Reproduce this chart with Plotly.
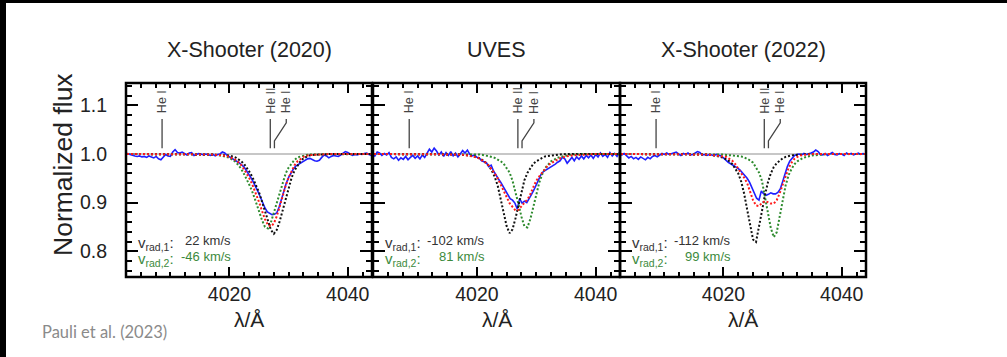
import plotly.graph_objects as go

W, H = 1007, 357

# ---------------- data ----------------
PANEL_TITLES = ["X-Shooter (2020)", "UVES", "X-Shooter (2022)"]
VRAD1 = [22, -102, -112]
VRAD2 = [-46, 81, 99]
CONTINUUM = 1.0
X_TICK0, X_DTICK, X_MINOR = 4000, 20, 2.5
Y_TICK0, Y_DTICK, Y_MINOR = 0.8, 0.1, 0.02

# spectral line identifications
LINE_NAMES = ["He I", "He II", "He I"]
LINE_POS = [4008.6, 4026.9, 4027.6]
LINE_LABEL_POS = [4008.6, 4026.9, 4029.6]

WL_MODEL = [4002, 4004, 4006, 4008, 4010, 4012, 4014, 4016, 4017, 4018, 4019,
            4019.5, 4020, 4020.5, 4021, 4021.5, 4022, 4022.5, 4023, 4023.5, 4024, 4024.5,
            4025, 4025.5, 4026, 4026.5, 4027, 4027.5, 4028, 4028.5, 4029, 4029.5, 4030,
            4030.5, 4031, 4031.5, 4032, 4032.5, 4033, 4033.5, 4034,
            4035, 4036, 4037, 4038, 4040, 4042, 4044]

WL_OBS = [4002.4, 4002.8, 4003.2, 4003.6, 4004.0, 4004.4, 4004.8, 4005.2, 4005.6, 4006.0,
          4006.4, 4006.8, 4007.2, 4007.6, 4008.0, 4008.4, 4008.8, 4009.2, 4009.6, 4010.0,
          4010.4, 4010.8, 4011.2, 4011.6, 4012.0, 4012.4, 4012.8, 4013.2, 4013.6, 4014.0,
          4014.4, 4014.8, 4015.2, 4015.6, 4016.0, 4016.4, 4016.8, 4017.2, 4017.6, 4018.0,
          4018.4, 4018.8, 4019.2, 4019.6, 4020.0, 4020.4, 4020.8, 4021.2, 4021.6, 4022.0,
          4022.4, 4022.8, 4023.2, 4023.6, 4024.0, 4024.4, 4024.8, 4025.2, 4025.6, 4026.0,
          4026.4, 4026.8, 4027.2, 4027.6, 4028.0, 4028.4, 4028.8, 4029.2, 4029.6, 4030.0,
          4030.4, 4030.8, 4031.2, 4031.6, 4032.0, 4032.4, 4032.8, 4033.2, 4033.6, 4034.0,
          4034.4, 4034.8, 4035.2, 4035.6, 4036.0, 4036.4, 4036.8, 4037.2, 4037.6, 4038.0,
          4038.4, 4038.8, 4039.2, 4039.6, 4040.0, 4040.4, 4040.8, 4041.2, 4041.6, 4042.0,
          4042.4, 4042.8, 4043.2, 4043.6, 4044.0]

OBS_2020 = [1.000, 1.001, 0.999, 0.997, 0.996, 0.995, 0.996, 0.994, 0.995, 0.993,
            0.996, 0.994, 0.992, 0.995, 0.990, 0.988, 0.994, 0.999, 0.996, 0.995,
            1.004, 1.009, 1.003, 1.002, 1.004, 1.001, 0.998, 1.002, 1.003, 0.997,
            0.999, 1.001, 1.000, 0.998, 1.000, 0.999, 0.997, 0.999, 0.996, 0.999,
            1.000, 1.004, 1.002, 0.997, 0.994, 0.991, 0.989, 0.986, 0.982, 0.978,
            0.974, 0.967, 0.960, 0.952, 0.943, 0.934, 0.923, 0.912, 0.900, 0.889,
            0.881, 0.877, 0.875, 0.876, 0.879, 0.891, 0.908, 0.925, 0.940, 0.952,
            0.961, 0.969, 0.975, 0.978, 0.981, 0.983, 0.987, 0.990, 0.991, 0.988,
            0.986, 0.985, 0.987, 0.993, 0.998, 0.996, 0.992, 0.995, 0.997, 0.996,
            0.995, 0.998, 1.001, 1.005, 1.003, 0.999, 0.997, 0.999, 0.998, 1.000,
            0.999, 1.001, 1.002, 0.999, 0.997]
FIT_2020 = [1.0, 1.0, 1.0, 1.0, 1.0, 1.0, 1.0, 0.999, 0.999, 0.998, 0.997,
            0.996, 0.994, 0.991, 0.988, 0.983, 0.977, 0.968, 0.958, 0.947, 0.933, 0.918,
            0.901, 0.883, 0.866, 0.854, 0.851, 0.857, 0.872, 0.892, 0.914, 0.935, 0.951,
            0.966, 0.977, 0.985, 0.990, 0.994, 0.996, 0.998, 0.998,
            0.999, 0.999, 1.0, 1.0, 1.0, 1.0, 1.0]
COMP1_2020 = [1.0, 1.0, 1.0, 1.0, 1.0, 1.0, 1.0, 0.999, 0.999, 0.998, 0.998,
              0.998, 0.997, 0.995, 0.993, 0.989, 0.985, 0.979, 0.970, 0.961, 0.949, 0.936,
              0.921, 0.902, 0.882, 0.862, 0.844, 0.836, 0.844, 0.862, 0.885, 0.910, 0.931,
              0.951, 0.966, 0.977, 0.985, 0.991, 0.994, 0.997, 0.998,
              0.999, 0.999, 1.0, 1.0, 1.0, 1.0, 1.0]
COMP2_2020 = [1.0, 1.0, 1.0, 1.0, 1.0, 1.0, 1.0, 1.0, 0.999, 0.998, 0.996,
              0.994, 0.992, 0.988, 0.984, 0.977, 0.969, 0.958, 0.947, 0.933, 0.918, 0.900,
              0.881, 0.864, 0.850, 0.847, 0.859, 0.879, 0.901, 0.922, 0.943, 0.960, 0.972,
              0.981, 0.988, 0.993, 0.995, 0.997, 0.998, 0.999, 0.999,
              1.0, 1.0, 1.0, 1.0, 1.0, 1.0, 1.0]

OBS_UVES = [1.000, 0.996, 1.004, 1.002, 0.997, 1.001, 0.998, 1.003, 0.993, 0.990,
            0.994, 0.987, 0.992, 0.989, 0.995, 0.988, 0.993, 0.997, 0.991, 0.996,
            0.990, 0.998, 0.993, 1.001, 1.010, 1.004, 1.012, 1.006, 0.998, 1.004,
            0.995, 1.003, 0.997, 1.005, 0.996, 1.002, 0.994, 1.000, 1.007, 1.002,
            1.008, 0.999, 0.996, 0.998, 0.993, 0.992, 0.986, 0.984, 0.982, 0.974,
            0.977, 0.965, 0.956, 0.949, 0.942, 0.934, 0.925, 0.917, 0.908, 0.905,
            0.899, 0.887, 0.908, 0.899, 0.903, 0.900, 0.910, 0.917, 0.926, 0.937,
            0.948, 0.958, 0.964, 0.967, 0.969, 0.973, 0.976, 0.979, 0.983, 0.986,
            0.993, 0.990, 0.981, 0.988, 0.993, 0.986, 0.994, 0.989, 0.996, 0.990,
            0.997, 0.992, 0.998, 0.991, 0.999, 0.994, 1.002, 0.995, 0.999, 0.993,
            1.003, 0.996, 1.001, 0.995, 1.003]
FIT_UVES = [1.0, 1.0, 1.0, 1.0, 1.0, 1.0, 1.0, 1.0, 0.999, 0.998, 0.996,
            0.995, 0.993, 0.990, 0.986, 0.982, 0.976, 0.969, 0.960, 0.950, 0.938, 0.925,
            0.912, 0.899, 0.891, 0.884, 0.885, 0.893, 0.900, 0.906, 0.917, 0.932, 0.945,
            0.954, 0.962, 0.970, 0.977, 0.981, 0.985, 0.988, 0.991,
            0.995, 0.997, 0.998, 0.999, 1.0, 1.0, 1.0]
COMP1_UVES = [1.0, 1.0, 1.0, 1.0, 1.0, 1.0, 1.0, 0.999, 0.999, 0.998, 0.997,
              0.995, 0.993, 0.991, 0.987, 0.982, 0.976, 0.966, 0.953, 0.935, 0.909, 0.879,
              0.852, 0.837, 0.845, 0.868, 0.896, 0.925, 0.946, 0.961, 0.972, 0.980, 0.985,
              0.989, 0.992, 0.995, 0.996, 0.997, 0.998, 0.999, 0.999,
              1.0, 1.0, 1.0, 1.0, 1.0, 1.0, 1.0]
COMP2_UVES = [1.0, 1.0, 1.0, 1.0, 1.0, 1.0, 1.0, 1.0, 1.0, 0.999, 0.999,
              0.999, 0.999, 0.999, 0.998, 0.997, 0.996, 0.994, 0.992, 0.989, 0.985, 0.980,
              0.972, 0.962, 0.945, 0.923, 0.897, 0.871, 0.851, 0.849, 0.866, 0.891, 0.918,
              0.941, 0.958, 0.971, 0.978, 0.985, 0.988, 0.992, 0.994,
              0.997, 0.999, 0.999, 1.0, 1.0, 1.0, 1.0]

OBS_2022 = [1.002, 0.998, 1.001, 0.996, 0.992, 0.995, 0.990, 0.993, 0.989, 0.994,
            0.991, 0.988, 0.993, 0.990, 0.995, 0.997, 0.994, 0.998, 1.001, 0.999,
            1.002, 0.999, 1.001, 1.003, 1.004, 1.000, 0.997, 1.001, 0.999, 1.002,
            0.998, 0.999, 1.002, 1.005, 1.003, 0.998, 0.999, 0.997, 0.999, 0.998,
            0.997, 0.999, 0.998, 0.996, 0.992, 0.987, 0.983, 0.980, 0.977, 0.975,
            0.971, 0.967, 0.962, 0.957, 0.950, 0.942, 0.930, 0.920, 0.909, 0.905,
            0.924, 0.918, 0.915, 0.917, 0.920, 0.918, 0.918, 0.921, 0.928, 0.943,
            0.959, 0.974, 0.985, 0.992, 0.997, 0.999, 1.000, 0.998, 1.001, 0.999,
            1.000, 1.002, 1.004, 1.008, 1.005, 0.999, 0.998, 1.001, 0.997, 1.000,
            1.003, 0.999, 0.998, 1.001, 1.000, 0.997, 1.002, 0.999, 1.001, 0.998,
            1.000, 1.002, 0.999, 1.001, 1.000]
FIT_2022 = [1.0, 1.0, 1.0, 1.0, 1.0, 1.0, 1.0, 0.999, 0.999, 0.998, 0.997,
            0.996, 0.995, 0.994, 0.990, 0.986, 0.979, 0.970, 0.961, 0.951, 0.940, 0.920,
            0.905, 0.894, 0.893, 0.899, 0.903, 0.901, 0.898, 0.898, 0.905, 0.919, 0.936,
            0.956, 0.971, 0.982, 0.990, 0.994, 0.997, 0.998, 0.999,
            1.0, 1.0, 1.0, 1.0, 1.0, 1.0, 1.0]
COMP1_2022 = [1.0, 1.0, 1.0, 1.0, 1.0, 1.0, 1.0, 0.999, 0.999, 0.998, 0.996,
              0.994, 0.992, 0.989, 0.985, 0.979, 0.970, 0.960, 0.943, 0.918, 0.886, 0.852,
              0.824, 0.819, 0.848, 0.882, 0.915, 0.941, 0.960, 0.973, 0.981, 0.987, 0.991,
              0.994, 0.996, 0.997, 0.998, 0.998, 0.999, 0.999, 1.0,
              1.0, 1.0, 1.0, 1.0, 1.0, 1.0, 1.0]
COMP2_2022 = [1.0, 1.0, 1.0, 1.0, 1.0, 1.0, 1.0, 1.0, 1.0, 1.0, 0.999,
              0.999, 0.999, 0.998, 0.998, 0.997, 0.996, 0.996, 0.995, 0.993, 0.990, 0.987,
              0.982, 0.973, 0.962, 0.945, 0.916, 0.880, 0.848, 0.829, 0.839, 0.868, 0.903,
              0.935, 0.956, 0.969, 0.979, 0.985, 0.989, 0.992, 0.994,
              0.997, 0.998, 0.999, 1.0, 1.0, 1.0, 1.0]

OBS = [OBS_2020, OBS_UVES, OBS_2022]
FIT = [FIT_2020, FIT_UVES, FIT_2022]
COMP1 = [COMP1_2020, COMP1_UVES, COMP1_2022]
COMP2 = [COMP2_2020, COMP2_UVES, COMP2_2022]

for arr in OBS:
    assert len(arr) == len(WL_OBS), len(arr)
for arr in FIT + COMP1 + COMP2:
    assert len(arr) == len(WL_MODEL), len(arr)

# ---------------- layout geometry (pixels) ----------------
PANEL_PX = [(126, 372), (373, 620), (620, 866)]
PANEL_TOP, PANEL_BOT = 83, 277
X_RANGE = [4002.5, 4044.1]
Y_RANGE = [0.747, 1.146]
VALUE_RIGHT = [0.435, 0.4615, 0.459]

FONT = "Liberation Sans, Arial, sans-serif"
TXT = "#222222"
BLUE = "#1f1fff"
RED = "#ff1a1a"
BLACK = "#111111"
GREEN = "#2e8b2e"
GREEN_TXT = "#3c8a3c"
IDCOL = "#444444"


def fx(px):
    return px / W


def fy(py):
    return 1 - py / H


fig = go.Figure()

for i in range(3):
    xr = "x" if i == 0 else f"x{i+1}"
    yr = "y" if i == 0 else f"y{i+1}"
    fig.add_trace(go.Scatter(x=[X_RANGE[0] - 1, X_RANGE[1] + 1], y=[CONTINUUM, CONTINUUM],
                             mode="lines", line=dict(color="#b4b4b4", width=1.6),
                             xaxis=xr, yaxis=yr, showlegend=False, hoverinfo="skip"))
    for name, pos, lpos in zip(LINE_NAMES, LINE_POS, LINE_LABEL_POS):
        if lpos == pos:
            xs, ys = [pos, pos], [1.012, 1.072]
        else:
            xs, ys = [pos, pos, lpos, lpos], [1.012, 1.027, 1.064, 1.072]
        fig.add_trace(go.Scatter(x=xs, y=ys, mode="lines",
                                 line=dict(color=IDCOL, width=1.3),
                                 xaxis=xr, yaxis=yr, showlegend=False, hoverinfo="skip"))
        fig.add_annotation(x=lpos, y=1.079, xref=xr, yref=yr, text=name, textangle=-90,
                           showarrow=False, xanchor="center", yanchor="bottom",
                           font=dict(family=FONT, size=12.5, color=IDCOL))
    fig.add_trace(go.Scatter(x=WL_OBS, y=OBS[i], mode="lines",
                             line=dict(color=BLUE, width=1.6),
                             xaxis=xr, yaxis=yr, showlegend=False))
    fig.add_trace(go.Scatter(x=WL_MODEL, y=COMP2[i], mode="lines",
                             line=dict(color=GREEN, width=2, dash="2px,2px"),
                             xaxis=xr, yaxis=yr, showlegend=False))
    fig.add_trace(go.Scatter(x=WL_MODEL, y=COMP1[i], mode="lines",
                             line=dict(color=BLACK, width=2, dash="2px,2px"),
                             xaxis=xr, yaxis=yr, showlegend=False))
    fig.add_trace(go.Scatter(x=WL_MODEL, y=FIT[i], mode="lines",
                             line=dict(color=RED, width=2, dash="2px,2px"),
                             xaxis=xr, yaxis=yr, showlegend=False))

    xd = f"{xr} domain"
    yd = f"{yr} domain"
    fig.add_annotation(x=10 / 246, y=0.175, xref=xd, yref=yd, text="v<sub>rad,1</sub>:",
                       showarrow=False, xanchor="left", yanchor="middle",
                       font=dict(family=FONT, size=15, color="#333333"))
    fig.add_annotation(x=VALUE_RIGHT[i], y=0.19, xref=xd, yref=yd, text=f"{VRAD1[i]} km/s",
                       showarrow=False, xanchor="right", yanchor="middle",
                       font=dict(family=FONT, size=13, color="#333333"))
    fig.add_annotation(x=10 / 246, y=0.09, xref=xd, yref=yd, text="v<sub>rad,2</sub>:",
                       showarrow=False, xanchor="left", yanchor="middle",
                       font=dict(family=FONT, size=15, color=GREEN_TXT))
    fig.add_annotation(x=VALUE_RIGHT[i], y=0.105, xref=xd, yref=yd, text=f"{VRAD2[i]} km/s",
                       showarrow=False, xanchor="right", yanchor="middle",
                       font=dict(family=FONT, size=13, color=GREEN_TXT))

    cx = fx((PANEL_PX[i][0] + PANEL_PX[i][1]) / 2)
    fig.add_annotation(x=cx, y=fy(50), xref="paper", yref="paper", text=PANEL_TITLES[i],
                       showarrow=False, xanchor="center", yanchor="middle",
                       font=dict(family=FONT, size=21.5, color=TXT))
    fig.add_annotation(x=cx, y=fy(319), xref="paper", yref="paper", text="λ/Å",
                       showarrow=False, xanchor="center", yanchor="middle",
                       font=dict(family=FONT, size=21, color=TXT))

    # panel frame
    fig.add_shape(type="rect", xref=xd, yref=yd, x0=0, x1=1, y0=0, y1=1,
                  line=dict(color="black", width=2.5), fillcolor="rgba(0,0,0,0)",
                  layer="above")

    xkey = "xaxis" if i == 0 else f"xaxis{i+1}"
    ykey = "yaxis" if i == 0 else f"yaxis{i+1}"
    common = dict(ticks="inside", tickcolor="black", tickwidth=1.5,
                  showline=True, linecolor="black", linewidth=1, mirror="allticks",
                  layer="below traces", showgrid=False, zeroline=False,
                  tickmode="linear",
                  tickfont=dict(family=FONT, size=19.5, color=TXT))
    fig.layout[xkey] = dict(
        common, domain=[fx(PANEL_PX[i][0]), fx(PANEL_PX[i][1])], range=X_RANGE,
        anchor=yr, tick0=X_TICK0, dtick=X_DTICK, ticklen=10,
        minor=dict(dtick=X_MINOR, tick0=X_TICK0, ticklen=5, tickwidth=1.5,
                   ticks="inside", tickcolor="black", showgrid=False))
    fig.layout[ykey] = dict(
        common, domain=[fy(PANEL_BOT), fy(PANEL_TOP)], range=Y_RANGE, anchor=xr,
        tick0=Y_TICK0, dtick=Y_DTICK, tickformat=".1f", ticklen=12,
        showticklabels=(i == 0), ticklabelstandoff=14,
        minor=dict(dtick=Y_MINOR, tick0=Y_TICK0, ticklen=6, tickwidth=1.5,
                   ticks="inside", tickcolor="black", showgrid=False))

fig.add_annotation(x=fx(63), y=fy(165), xref="paper", yref="paper", text="Normalized flux",
                   textangle=-90, showarrow=False, xanchor="center", yanchor="middle",
                   font=dict(family=FONT, size=26.5, color=TXT))
fig.add_annotation(x=fx(40), y=fy(332), xref="paper", yref="paper", text="Pauli et al. (2023)",
                   showarrow=False, xanchor="left", yanchor="middle",
                   font=dict(family="Lato, Liberation Sans, sans-serif", size=16.5, color="#8a8a8a"))

fig.add_shape(type="rect", xref="paper", yref="paper", x0=0, x1=fx(6), y0=0, y1=1,
              fillcolor="black", line_width=0, layer="above")
fig.add_shape(type="rect", xref="paper", yref="paper", x0=0, x1=1, y0=fy(3), y1=1,
              fillcolor="black", line_width=0, layer="above")

fig.update_layout(width=W, height=H, margin=dict(l=0, r=0, t=0, b=0),
                  paper_bgcolor="white", plot_bgcolor="white", showlegend=False)

fig.write_html("out.html")
